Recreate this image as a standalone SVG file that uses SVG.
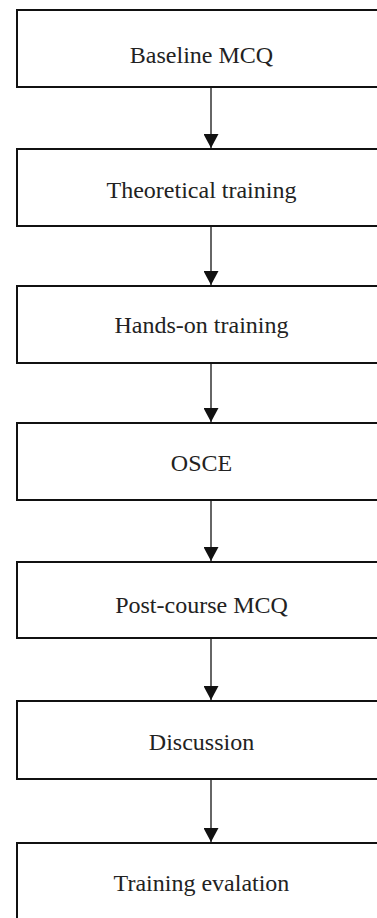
<svg xmlns="http://www.w3.org/2000/svg" width="377" height="918" viewBox="0 0 377 918">
  <defs>
    <style>
      .box { fill: #ffffff; stroke: #111111; stroke-width: 2; }
      .lbl { font-size: 24px; fill: #222222; text-anchor: middle; }
      .conn { stroke: #333333; stroke-width: 1.5; fill: none; marker-end: url(#arrow); }
    </style>
    <marker id="arrow" viewBox="0 0 14 15" refX="14" refY="7.5" markerWidth="14" markerHeight="15" markerUnits="userSpaceOnUse" orient="auto">
      <path d="M0,0 L14,7.5 L0,15 z" fill="#111111"/>
    </marker>
  </defs>
  <rect width="377" height="918" fill="#ffffff"/>
  <g id="connectors">
    <line class="conn" x1="211" y1="88" x2="211" y2="148"/>
    <line class="conn" x1="211" y1="227" x2="211" y2="285"/>
    <line class="conn" x1="211" y1="364" x2="211" y2="422"/>
    <line class="conn" x1="211" y1="501" x2="211" y2="561"/>
    <line class="conn" x1="211" y1="639" x2="211" y2="700"/>
    <line class="conn" x1="211" y1="780" x2="211" y2="842"/>
  </g>
  <g font-family="'Liberation Serif', 'Times New Roman', serif">
  <g id="node-baseline-mcq">
    <rect class="box" x="17" y="10" width="400" height="77"/>
    <text class="lbl" x="201.5" y="63">Baseline MCQ</text>
  </g>
  <g id="node-theoretical-training">
    <rect class="box" x="17" y="149" width="400" height="77"/>
    <text class="lbl" x="201.5" y="198">Theoretical training</text>
  </g>
  <g id="node-hands-on-training">
    <rect class="box" x="17" y="286" width="400" height="77"/>
    <text class="lbl" x="201.5" y="333">Hands-on training</text>
  </g>
  <g id="node-osce">
    <rect class="box" x="17" y="423" width="400" height="77"/>
    <text class="lbl" x="201.5" y="471">OSCE</text>
  </g>
  <g id="node-post-course-mcq">
    <rect class="box" x="17" y="562" width="400" height="76"/>
    <text class="lbl" x="201.5" y="613">Post-course MCQ</text>
  </g>
  <g id="node-discussion">
    <rect class="box" x="17" y="701" width="400" height="78"/>
    <text class="lbl" x="201.5" y="750">Discussion</text>
  </g>
  <g id="node-training-evalation">
    <rect class="box" x="17" y="843" width="400" height="90"/>
    <text class="lbl" x="201.5" y="891">Training evalation</text>
  </g>
  </g>
</svg>
